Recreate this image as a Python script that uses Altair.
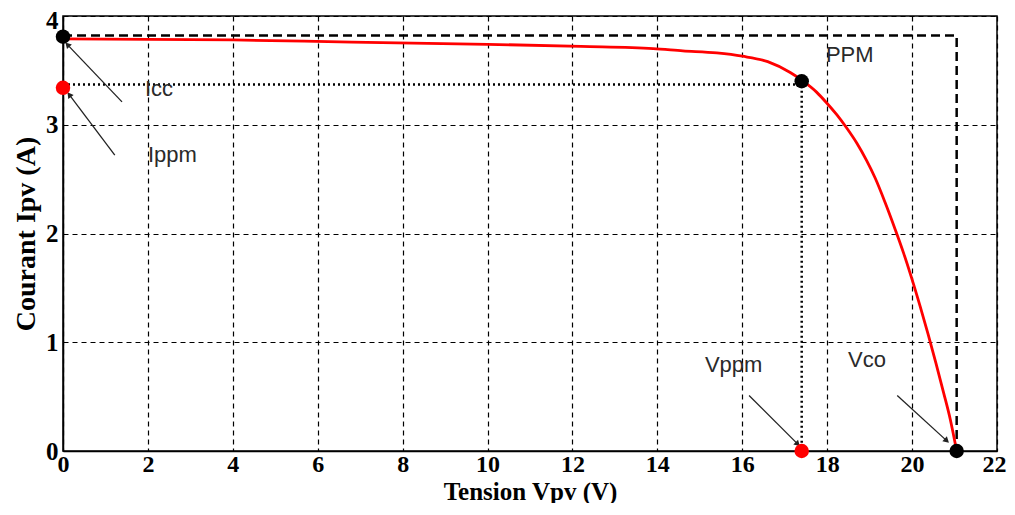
import math
import altair as alt
import pandas as pd

# ---- data ----
curve_v = [0, 4, 6.8, 10, 12.2, 13.9, 14.6, 15.4, 16.0, 16.6, 17.13, 17.4, 17.75, 17.99, 18.23, 18.46,
           18.70, 18.93, 19.13, 19.36, 19.60, 19.80, 19.99, 20.19, 20.38, 20.56, 20.74, 20.90, 21.05]
curve_i = [3.79, 3.78, 3.76, 3.74, 3.72, 3.70, 3.68, 3.66, 3.63, 3.58, 3.48, 3.41, 3.30, 3.20, 3.09, 2.97,
           2.83, 2.67, 2.51, 2.29, 2.04, 1.82, 1.59, 1.33, 1.07, 0.81, 0.54, 0.29, 0]

icc = 3.82
vco = 21.05
vppm = 17.4
ippm = 3.37

rect_v = [0, vco, vco]
rect_i = [icc, icc, 0]
mpp_v = [0, vppm, vppm]
mpp_i = [ippm, ippm, 0]

pt_v = [0, 0, vppm, vppm, vco]
pt_i = [3.81, 3.34, 3.40, 0, 0]
pt_col = ["black", "red", "black", "red", "black"]

lab_txt = ["Icc", "Ippm", "PPM", "Vppm", "Vco"]
lab_v = [1.93, 2.0, 17.97, 15.12, 18.49]
lab_i = [3.33, 2.72, 3.64, 0.79, 0.84]

arr_tail_v = [1.39, 1.22, 16.16, 19.65]
arr_tail_i = [3.21, 2.72, 0.51, 0.51]
arr_head_v = [0.12, 0.16, 17.29, 20.80]
arr_head_i = [3.73, 3.27, 0.07, 0.10]

x_ticks = list(range(0, 23, 2))
y_ticks = [0, 1, 2, 3, 4]

W, H = 934, 435
XMAX, YMAX = 22, 4

# ---- tables ----
curve = pd.DataFrame({"v": curve_v, "i": curve_i})
rect = pd.DataFrame({"v": rect_v, "i": rect_i, "o": [0, 1, 2]})
mpp = pd.DataFrame({"v": mpp_v, "i": mpp_i, "o": [0, 1, 2]})
pts = pd.DataFrame({"v": pt_v, "i": pt_i, "c": pt_col})
labs = pd.DataFrame({"v": lab_v, "i": lab_i, "t": lab_txt})

rows = []
heads = []
for k in range(len(arr_tail_v)):
    rows.append({"v": arr_tail_v[k], "i": arr_tail_i[k], "a": k, "o": 0})
    rows.append({"v": arr_head_v[k], "i": arr_head_i[k], "a": k, "o": 1})
    dx = (arr_head_v[k] - arr_tail_v[k]) * W / XMAX
    dy = -(arr_head_i[k] - arr_tail_i[k]) * H / YMAX
    ang = math.degrees(math.atan2(dx, -dy)) % 360
    heads.append({"v": arr_head_v[k], "i": arr_head_i[k], "ang": ang})
arrows = pd.DataFrame(rows)
arrow_heads = pd.DataFrame(heads)

serif = "Liberation Serif"
xaxis = alt.Axis(values=x_ticks, title="Tension Vpv (V)", grid=True, ticks=False,
                 gridColor="black", gridDash=[5, 4], gridWidth=1.2, gridOpacity=1,
                 domainColor="black", domainWidth=1.5,
                 labelFont=serif, labelFontWeight="bold", labelFontSize=24, labelColor="black",
                 labelPadding=1, labelFlush=False,
                 labelOffset={"condition": {"test": "datum.value == 22", "value": -3}, "value": 0},
                 titleFont=serif, titleFontWeight="bold", titleFontSize=25, titleColor="black",
                 titleBaseline="alphabetic", titleY=48)
yaxis = alt.Axis(values=y_ticks, title="Courant Ipv (A)", grid=True, ticks=False,
                 gridColor="black", gridDash=[5, 4], gridWidth=1.2, gridOpacity=1,
                 domainColor="black", domainWidth=1.5,
                 labelFont=serif, labelFontWeight="bold", labelFontSize=25, labelColor="black",
                 labelPadding=5, labelFlush=False,
                 labelOffset={"condition": {"test": "datum.value == 4", "value": 4}, "value": 0},
                 titleFont=serif, titleFontWeight="bold", titleFontSize=28, titleColor="black",
                 titlePadding=5)

def X():
    return alt.X("v:Q", scale=alt.Scale(domain=[0, XMAX], nice=False, zero=False), axis=xaxis)

def Y():
    return alt.Y("i:Q", scale=alt.Scale(domain=[0, YMAX], nice=False, zero=False), axis=yaxis)

rect_l = alt.Chart(rect).mark_line(color="black", strokeWidth=2.5, strokeDash=[9, 5]).encode(
    x=X(), y=Y(), order="o:Q")
mpp_l = alt.Chart(mpp).mark_line(color="black", strokeWidth=2.5, strokeDash=[2, 3]).encode(
    x=X(), y=Y(), order="o:Q")
curve_l = alt.Chart(curve).mark_line(color="red", strokeWidth=2.8, interpolate="monotone").encode(
    x=X(), y=Y())
pts_l = alt.Chart(pts).mark_point(filled=True, opacity=1, size=210, shape="circle").encode(
    x=X(), y=Y(), color=alt.Color("c:N", scale=None))
arr_l = alt.Chart(arrows).mark_line(color="#222222", strokeWidth=1.3).encode(
    x=X(), y=Y(), detail="a:N", order="o:Q")
head_l = alt.Chart(arrow_heads).mark_point(shape="triangle", filled=True, color="#222222", opacity=1, size=45).encode(
    x=X(), y=Y(), angle=alt.Angle("ang:Q", scale=None))
txt_l = alt.Chart(labs).mark_text(align="left", baseline="middle", font="Liberation Sans",
                                  fontSize=22, color="#2a2a2a").encode(
    x=X(), y=Y(), text="t:N")

chart = alt.layer(rect_l, mpp_l, curve_l, arr_l, head_l, pts_l, txt_l).properties(
    width=W, height=H,
    autosize=alt.AutoSizeParams(type="none"),
    padding={"left": 55, "top": 8, "right": 10, "bottom": 52},
    background="white",
).configure_view(stroke="black", strokeWidth=1.5)

chart.save("out.html", embed_options={"renderer": "svg", "actions": False})
